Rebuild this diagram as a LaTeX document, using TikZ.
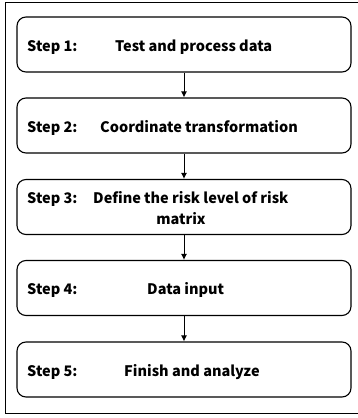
\documentclass[tikz,border=0pt]{standalone}
\usepackage{fontspec}
\setmainfont{Noto Sans CJK SC}
\usepackage{tikz}
\usetikzlibrary{arrows.meta}

\begin{document}
\begin{tikzpicture}[x=1pt, y=-1pt,
        stepbox/.style={draw, line width=1.1pt, rounded corners=9pt, minimum width=334pt, minimum height=55pt, inner sep=0pt},
        steptext/.style={anchor=base west, inner sep=0pt, font=\fontsize{14.5pt}{17pt}\selectfont\bfseries},
        flow/.style={draw, line width=1pt, -{Latex[length=6pt, width=6pt]}}]

        \useasboundingbox (0,0) rectangle (358,418);
        % Outer frame
        \draw[line width=0.9pt] (370,2) -- (5,2) -- (5,413) -- (370,413);

            % Step boxes
            \node[stepbox] (box1) at (184,44.5) {};
            \node[stepbox] (box2) at (184,125.5) {};
            \node[stepbox] (box3) at (184,207) {};
            \node[stepbox] (box4) at (184,288) {};
            \node[stepbox] (box5) at (184,369.5) {};

            % Step texts
            \node[steptext] (s1) at (27,51) {Step 1:};
            \node[steptext] (t1) at (115,51) {Test and process data};
            \node[steptext] (s2) at (27,132) {Step 2:};
            \node[steptext] (t2) at (100,132) {Coordinate transformation};
            \node[steptext] (s3) at (27,203.5) {Step 3:};
            \node[steptext] (t3) at (93,203.5) {Define the risk level of risk};
            \node[steptext, anchor=base] (t3b) at (181,224.5) {matrix};
            \node[steptext] (s4) at (27,294.5) {Step 4:};
            \node[steptext] (t4) at (147,294.5) {Data input};
            \node[steptext] (s5) at (27,376) {Step 5:};
            \node[steptext] (t5) at (124,376) {Finish and analyze};

            % Arrows
            \draw[flow] (box1) -- (box2);
            \draw[flow] (box2) -- (box3);
            \draw[flow] (box3) -- (box4);
            \draw[flow] (box4) -- (box5);
\end{tikzpicture}
\end{document}
